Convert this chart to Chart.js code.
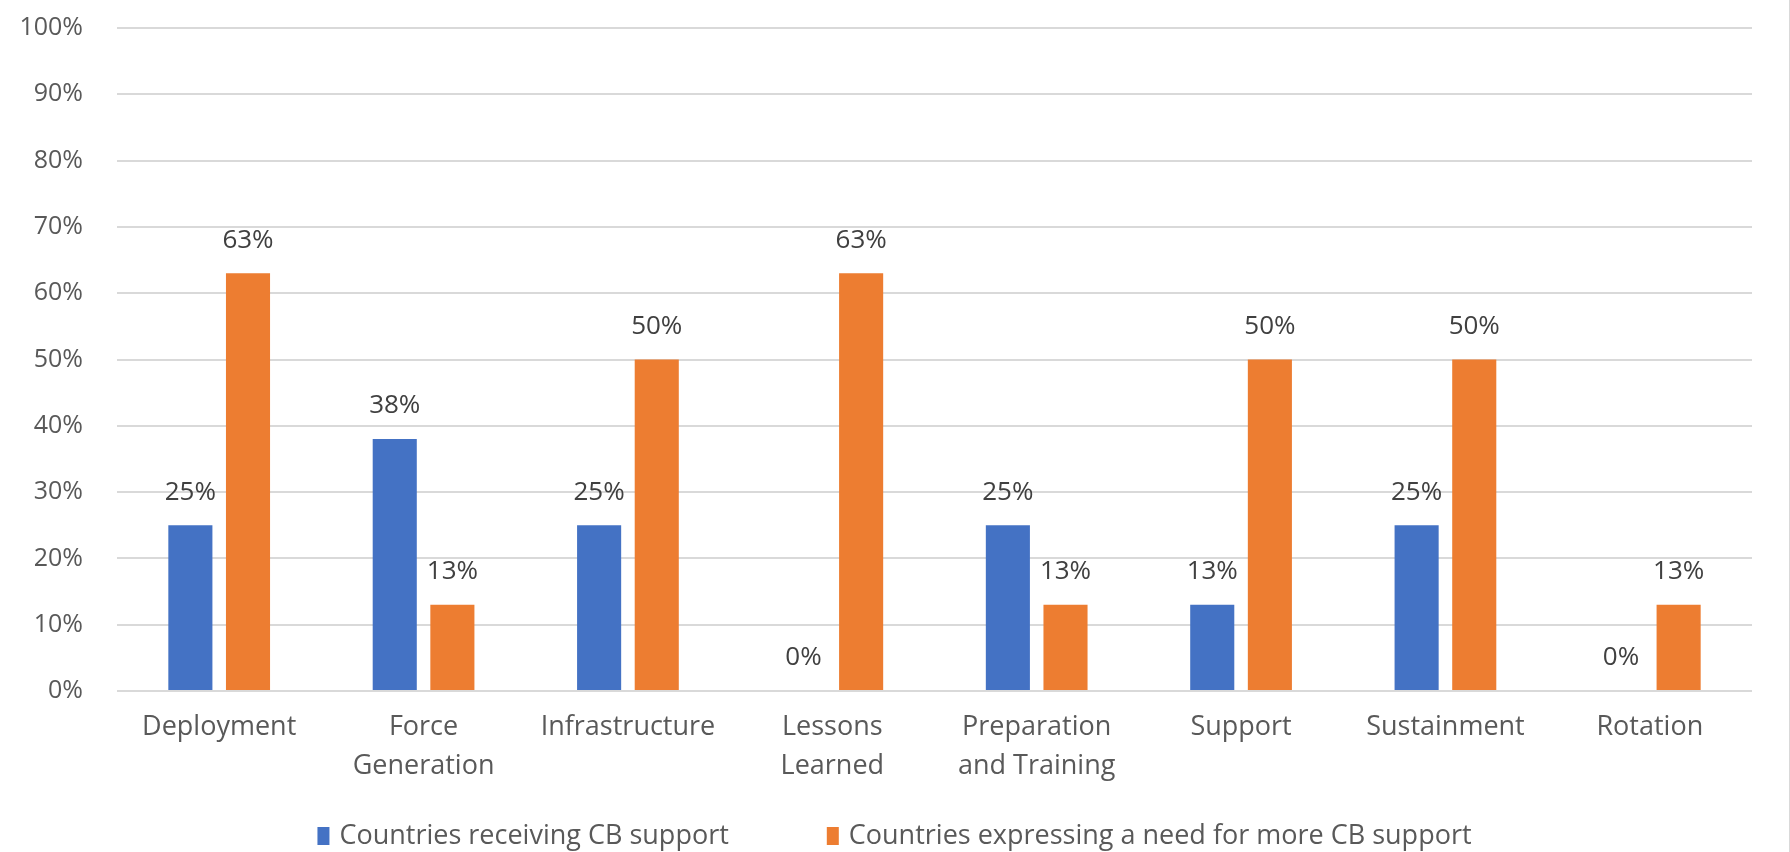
<!DOCTYPE html>
<html>
<head>
<meta charset="utf-8">
<script src="https://cdn.jsdelivr.net/npm/chart.js@4"></script>
<style>
  html, body { margin: 0; padding: 0; background: #fff; }
  #wrap { width: 1789px; height: 852px; border-right: 1px solid #d9d9d9; }
</style>
</head>
<body>
<div id="wrap"><canvas id="myChart"></canvas></div>
<script>
const categories = ['Deployment', ['Force', 'Generation'], 'Infrastructure', ['Lessons', 'Learned'],
  ['Preparation', 'and Training'], 'Support', 'Sustainment', 'Rotation'];
const receiving = [25, 38, 25, 0, 25, 13, 25, 0];
const needMore = [63, 13, 50, 63, 13, 50, 50, 13];
const seriesNames = ['Countries receiving CB support', 'Countries expressing a need for more CB support'];
const yTicks = [0, 10, 20, 30, 40, 50, 60, 70, 80, 90, 100];

const FONT = '"Open Sans", sans-serif';

// value labels above each bar
const barLabels = {
  id: 'barLabels',
  afterDatasetsDraw(chart) {
    const c = chart.ctx;
    c.save();
    c.font = '26px ' + FONT;
    c.fillStyle = '#404040';
    c.textAlign = 'center';
    c.textBaseline = 'middle';
    chart.data.datasets.forEach((ds, i) => {
      chart.getDatasetMeta(i).data.forEach((bar, j) => {
        c.fillText(ds.data[j] + '%', bar.x, bar.y - 33);
      });
    });
    c.restore();
  }
};

// excel style legend at the bottom
const bottomLegend = {
  id: 'bottomLegend',
  afterDraw(chart) {
    const c = chart.ctx;
    c.save();
    c.font = '27px ' + FONT;
    c.textBaseline = 'middle';
    c.textAlign = 'left';
    const box = 12, gap = 10, between = 98;
    const widths = chart.data.datasets.map(ds => box + gap + c.measureText(ds.label).width);
    const total = widths.reduce((a, b) => a + b, 0) + between * (widths.length - 1);
    let x = chart.width / 2 - total / 2;
    const y = 836;
    chart.data.datasets.forEach((ds, i) => {
      c.fillStyle = ds.backgroundColor;
      c.fillRect(x, y - 9, box, 18);
      c.fillStyle = '#595959';
      c.fillText(ds.label, x + box + gap, y);
      x += widths[i] + between;
    });
    c.restore();
  }
};

new Chart(document.getElementById('myChart'), {
  type: 'bar',
  data: {
    labels: categories,
    datasets: [
      { label: seriesNames[0], data: receiving, backgroundColor: '#4472C4' },
      { label: seriesNames[1], data: needMore, backgroundColor: '#ED7D31' }
    ]
  },
  options: {
    responsive: true,
    maintainAspectRatio: false,
    animation: false,
    categoryPercentage: 0.564,
    barPercentage: 0.765,
    layout: { padding: { left: 15, right: 37, top: 28, bottom: 60 } },
    plugins: {
      legend: { display: false },
      tooltip: { enabled: false }
    },
    scales: {
      x: {
        grid: { display: false, drawTicks: false },
        border: { display: false },
        ticks: {
          color: '#595959',
          font: { family: FONT, size: 27, lineHeight: 1.44 },
          padding: 17,
          maxRotation: 0,
          autoSkip: false
        },
        afterFit(scale) { scale.height = 101; }
      },
      y: {
        min: 0,
        max: 100,
        afterBuildTicks(scale) { scale.ticks = yTicks.map(v => ({ value: v })); },
        grid: { color: '#d9d9d9', lineWidth: 2, drawTicks: true, tickLength: 34, tickColor: 'rgba(0,0,0,0)' },
        border: { display: false },
        ticks: {
          color: '#595959',
          font: { family: FONT, size: 25 },
          padding: 0,
          callback: v => v + '%'
        },
        afterFit(scale) { scale.width = 102; }
      }
    }
  },
  plugins: [barLabels, bottomLegend]
});
</script>
</body>
</html>
